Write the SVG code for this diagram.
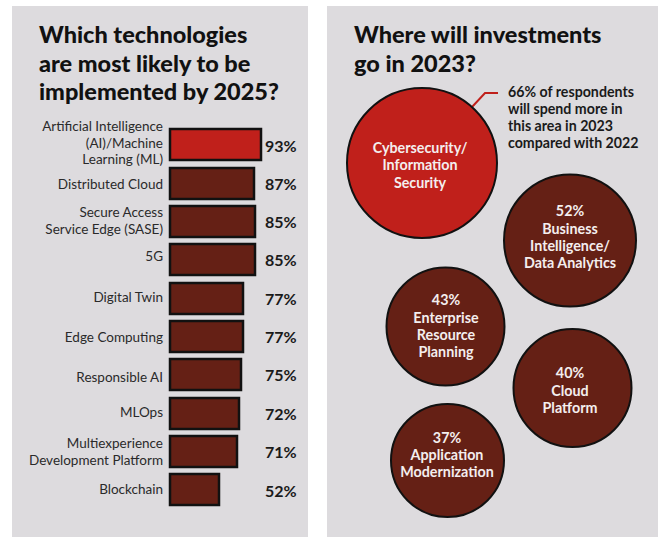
<svg xmlns="http://www.w3.org/2000/svg" width="664" height="537" viewBox="0 0 664 537">
<style>
.panel{fill:#dddbde}
.title{font-family:Lato,"Liberation Sans",sans-serif;font-weight:900;font-size:23.5px;fill:#111}
.lab{font-family:Lato,"Liberation Sans",sans-serif;font-size:13.5px;fill:#2a2a2a;text-anchor:end}
.pct{font-family:Lato,"Liberation Sans",sans-serif;font-weight:700;font-size:16px;fill:#1a1a1a}
.bar{fill:#652015;stroke:#111;stroke-width:2.5}
.bar.hi{fill:#c0201b}
.circ{fill:#652015;stroke:#111;stroke-width:2}
.circ.hi{fill:#c0201b}
.ct{font-family:Lato,"Liberation Sans",sans-serif;font-weight:700;font-size:14.3px;fill:#f4eeee;text-anchor:middle}
.note{font-family:Lato,"Liberation Sans",sans-serif;font-weight:700;font-size:14.2px;fill:#1a1a1a}
</style>
<rect width="664" height="537" fill="#fff"/>
<rect class="panel" x="12" y="6" width="296" height="531"/>
<rect class="panel" x="327" y="6" width="331" height="531"/>

<g id="title-left">
<text class="title" x="39" y="43">Which technologies</text>
<text class="title" x="39" y="72">are most likely to be</text>
<text class="title" x="39" y="100">implemented by 2025?</text>
</g>

<g id="bar-ai">
<rect class="bar hi" x="170" y="129" width="91" height="31"/>
<text class="lab" x="163" y="131">Artificial Intelligence</text>
<text class="lab" x="163" y="147.5">(AI)/Machine</text>
<text class="lab" x="163" y="164">Learning (ML)</text>
<text class="pct" x="265" y="152">93%</text>
</g>
<g id="bar-cloud">
<rect class="bar" x="170" y="168" width="84" height="31"/>
<text class="lab" x="163" y="189">Distributed Cloud</text>
<text class="pct" x="265" y="190">87%</text>
</g>
<g id="bar-sase">
<rect class="bar" x="170" y="206" width="85" height="31"/>
<text class="lab" x="163" y="217">Secure Access</text>
<text class="lab" x="163" y="234">Service Edge (SASE)</text>
<text class="pct" x="265" y="228">85%</text>
</g>
<g id="bar-5g">
<rect class="bar" x="170" y="244" width="85" height="31"/>
<text class="lab" x="163" y="261">5G</text>
<text class="pct" x="265" y="266">85%</text>
</g>
<g id="bar-twin">
<rect class="bar" x="170" y="283" width="73" height="31"/>
<text class="lab" x="163" y="302">Digital Twin</text>
<text class="pct" x="265" y="305">77%</text>
</g>
<g id="bar-edge">
<rect class="bar" x="170" y="321" width="73" height="31"/>
<text class="lab" x="163" y="342">Edge Computing</text>
<text class="pct" x="265" y="343">77%</text>
</g>
<g id="bar-rai">
<rect class="bar" x="170" y="359" width="71" height="31"/>
<text class="lab" x="163" y="382">Responsible AI</text>
<text class="pct" x="265" y="381">75%</text>
</g>
<g id="bar-mlops">
<rect class="bar" x="170" y="398" width="69" height="31"/>
<text class="lab" x="163" y="417">MLOps</text>
<text class="pct" x="265" y="420">72%</text>
</g>
<g id="bar-mx">
<rect class="bar" x="170" y="436" width="67" height="31"/>
<text class="lab" x="163" y="448">Multiexperience</text>
<text class="lab" x="163" y="465">Development Platform</text>
<text class="pct" x="265" y="458">71%</text>
</g>
<g id="bar-bc">
<rect class="bar" x="170" y="474" width="49" height="31"/>
<text class="lab" x="163" y="494">Blockchain</text>
<text class="pct" x="265" y="497">52%</text>
</g>

<g id="title-right">
<text class="title" x="354" y="43">Where will investments</text>
<text class="title" x="354" y="72">go in 2023?</text>
</g>

<g id="connectors">
<polyline points="472,107 485,93 498,93" fill="none" stroke="#c0201b" stroke-width="2"/>
</g>

<g id="note">
<text class="note" x="508" y="97">66% of respondents</text>
<text class="note" x="508" y="114">will spend more in</text>
<text class="note" x="508" y="131">this area in 2023</text>
<text class="note" x="508" y="148">compared with 2022</text>
</g>

<g id="c-cyber">
<circle class="circ hi" cx="422" cy="163" r="75"/>
<text class="ct" x="420" y="153">Cybersecurity/</text>
<text class="ct" x="420" y="170">Information</text>
<text class="ct" x="420" y="188">Security</text>
</g>
<g id="c-bi">
<circle class="circ" cx="570" cy="240.5" r="66"/>
<text class="ct" x="570" y="216">52%</text>
<text class="ct" x="570" y="234">Business</text>
<text class="ct" x="570" y="251">Intelligence/</text>
<text class="ct" x="570" y="268">Data Analytics</text>
</g>
<g id="c-erp">
<circle class="circ" cx="445.5" cy="326.5" r="59"/>
<text class="ct" x="446" y="305">43%</text>
<text class="ct" x="446" y="323">Enterprise</text>
<text class="ct" x="446" y="340">Resource</text>
<text class="ct" x="446" y="357">Planning</text>
</g>
<g id="c-cloud">
<circle class="circ" cx="572.5" cy="388" r="59"/>
<text class="ct" x="570" y="378">40%</text>
<text class="ct" x="570" y="396">Cloud</text>
<text class="ct" x="570" y="413">Platform</text>
</g>
<g id="c-app">
<circle class="circ" cx="447.5" cy="460.5" r="56.5"/>
<text class="ct" x="447" y="443">37%</text>
<text class="ct" x="447" y="460">Application</text>
<text class="ct" x="447" y="477">Modernization</text>
</g>
</svg>
